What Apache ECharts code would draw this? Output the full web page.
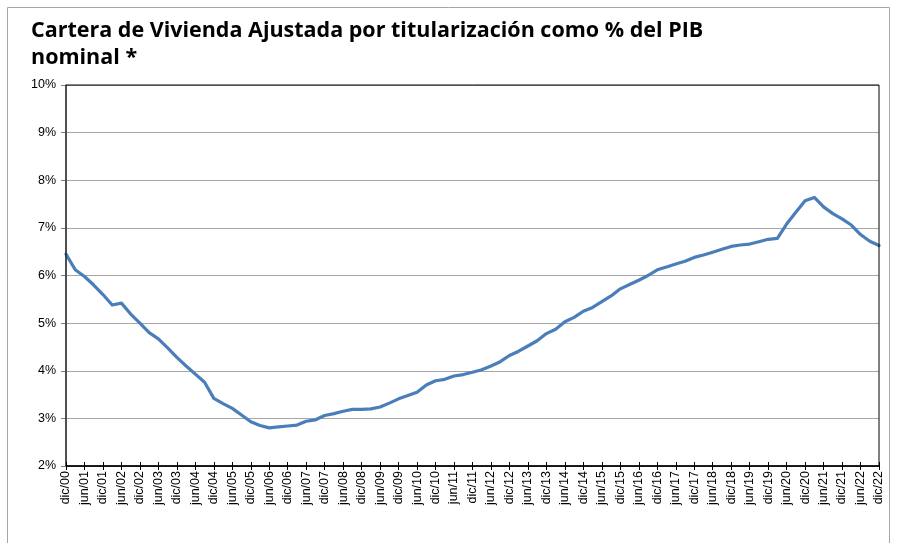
<!DOCTYPE html>
<html>
<head>
<meta charset="utf-8">
<script src="https://cdn.jsdelivr.net/npm/echarts@6/dist/echarts.min.js"></script>
<style>
  html, body { margin: 0; padding: 0; background: #ffffff; }
  #chart { width: 897px; height: 543px; }
</style>
</head>
<body>
<div id="chart"></div>
<script>
// Quarterly periods from dic/00 to dic/22 (labels shown every half year)
const monthNames = ['mar', 'jun', 'sep', 'dic'];
const firstYear = 2001;
const lastYear = 2022;

// Housing portfolio adjusted for securitization, % of nominal GDP (quarterly)
const carteraPIB = [
  6.45, 6.12, 5.98, 5.80, 5.60, 5.38, 5.42, 5.19, 5.00, 4.80,
  4.67, 4.48, 4.28, 4.10, 3.93, 3.76, 3.42, 3.31, 3.21, 3.07,
  2.93, 2.85, 2.80, 2.82, 2.84, 2.86, 2.94, 2.97, 3.06, 3.10,
  3.15, 3.19, 3.19, 3.20, 3.24, 3.32, 3.41, 3.48, 3.55, 3.70,
  3.79, 3.82, 3.89, 3.92, 3.97, 4.02, 4.10, 4.19, 4.32, 4.41,
  4.52, 4.63, 4.78, 4.87, 5.03, 5.12, 5.25, 5.33, 5.45, 5.57,
  5.72, 5.81, 5.90, 6.00, 6.12, 6.18, 6.24, 6.30, 6.38, 6.43,
  6.49, 6.55, 6.61, 6.64, 6.66, 6.71, 6.76, 6.78, 7.08, 7.33,
  7.57, 7.64, 7.44, 7.30, 7.19, 7.06, 6.86, 6.72, 6.63
];

const yTicks = { min: 2, max: 10, step: 1 };

const periods = ['dic/00'];
for (let y = firstYear; y <= lastYear; y++) {
  const yy = String(y % 100).padStart(2, '0');
  monthNames.forEach(m => periods.push(m + '/' + yy));
}

const chart = echarts.init(document.getElementById('chart'), null, { renderer: 'canvas' });

const labelFont = '"Liberation Sans", Arial, sans-serif';

chart.setOption({
  animation: false,
  backgroundColor: '#ffffff',
  title: {
    text: 'Cartera de Vivienda Ajustada por titularización como % del PIB\nnominal *',
    left: 26,
    top: 12,
    textStyle: {
      fontFamily: '"Open Sans", sans-serif',
      fontWeight: 'bold',
      fontSize: 21.5,
      lineHeight: 27,
      color: '#000000'
    }
  },
  graphic: [{
    type: 'rect',
    shape: { x: 7.5, y: 7.5, width: 882, height: 545 },
    style: { fill: 'none', stroke: '#a6a6a6', lineWidth: 1 },
    silent: true,
    z: -1
  }],
  grid: {
    left: 66,
    right: 18,
    top: 85,
    bottom: 77,
    show: true,
    borderColor: '#000000',
    borderWidth: 1,
    backgroundColor: 'transparent',
    z: 3
  },
  xAxis: [{
    type: 'category',
    data: periods,
    boundaryGap: false,
    axisLine: { show: true, lineStyle: { color: '#000000', width: 1.5 } },
    axisTick: { show: true, interval: 1, length: 4, lineStyle: { color: '#000000', width: 1 } },
    axisLabel: {
      interval: 1,
      rotate: 90,
      margin: 5,
      fontFamily: labelFont,
      fontSize: 12.5,
      color: '#000000'
    },
    splitLine: { show: false }
  }, {
    type: 'category',
    data: periods,
    boundaryGap: false,
    position: 'bottom',
    axisLine: { show: false },
    axisTick: { show: true, inside: true, interval: 1, length: 4, lineStyle: { color: '#000000', width: 1 } },
    axisLabel: { show: false },
    splitLine: { show: false }
  }],
  yAxis: {
    type: 'value',
    min: yTicks.min,
    max: yTicks.max,
    interval: yTicks.step,
    axisLine: { show: true, lineStyle: { color: '#7f7f7f', width: 1.5 } },
    axisTick: { show: true, length: 5, lineStyle: { color: '#7f7f7f' } },
    axisLabel: {
      formatter: '{value}%',
      margin: 10,
      fontFamily: labelFont,
      fontSize: 12.5,
      color: '#000000'
    },
    splitLine: { show: true, lineStyle: { color: '#a6a6a6', width: 1.2 } }
  },
  series: [{
    type: 'line',
    data: carteraPIB,
    xAxisIndex: 0,
    showSymbol: false,
    smooth: false,
    lineStyle: { color: '#4a7ebb', width: 3.2, join: 'round', cap: 'round' },
    z: 2
  }]
});
</script>
</body>
</html>
